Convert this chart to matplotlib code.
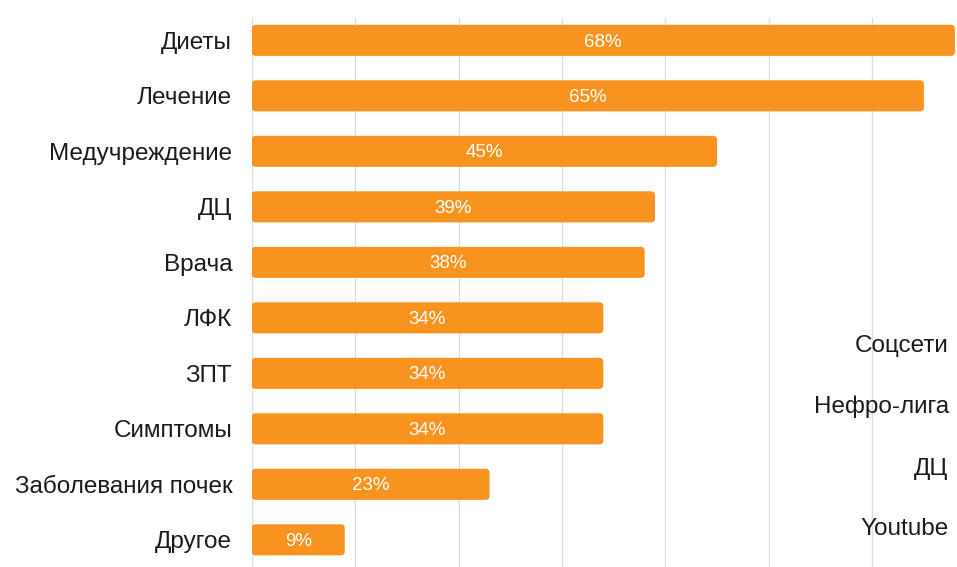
#!/usr/bin/env python
# -*- coding: utf-8 -*-

import numpy as np
from matplotlib import pyplot as plt
from matplotlib.patches import FancyBboxPatch

categories = ['Диеты', 'Лечение', 'Медучреждение', 'ДЦ', 'Врача', 'ЛФК', 'ЗПТ',
              'Симптомы', 'Заболевания почек', 'Другое']
values = [68, 65, 45, 39, 38, 34, 34, 34, 23, 9]
side_labels = ['Соцсети', 'Нефро-лига', 'ДЦ', 'Youtube']
side_pos = [5.5, 6.61, 7.72, 8.8]

plt.rcParams['font.family'] = ['Liberation Sans', 'DejaVu Sans']

fig = plt.figure(figsize=(9.57, 5.67), dpi=100)
ax = fig.add_axes([0.263, 0.0, 0.737, 0.968])

y = np.arange(len(categories))
bars = ax.barh(y, values, height=0.56, color='#F7931E', zorder=2)
# swap plain bars for ones with slightly rounded corners
for b in bars:
    b.set_visible(False)
    ax.add_patch(FancyBboxPatch((b.get_x(), b.get_y()), b.get_width(), b.get_height(),
                                boxstyle='round,pad=0,rounding_size=0.4', mutation_aspect=0.186,
                                facecolor='#F7931E', edgecolor='none', zorder=2))
for yi, v in zip(y, values):
    ax.text(v / 2, yi + 0.03, f'{v}%', ha='center', va='center', color='white', fontsize=13.5, zorder=3)

ax.set_xlim(0, 68.2)
ax.set_ylim(9.49, -0.4)
ax.set_xticks(np.arange(0, 70, 10))
ax.set_xticklabels([])
ax.tick_params(axis='x', length=0)
ax.grid(axis='x', color='#dddddd', linewidth=1, zorder=0)
ax.set_yticks(y)
ax.set_yticklabels(categories, fontsize=17.5, color='#1a1a1a')
ax.tick_params(axis='y', length=0, pad=14)
for s in ax.spines.values():
    s.set_visible(False)

for lbl, p in zip(side_labels, side_pos):
    ax.text(67.4, p, lbl, ha='right', va='center', fontsize=17.5, color='#1a1a1a')

fig.savefig('out.png', dpi=100)
